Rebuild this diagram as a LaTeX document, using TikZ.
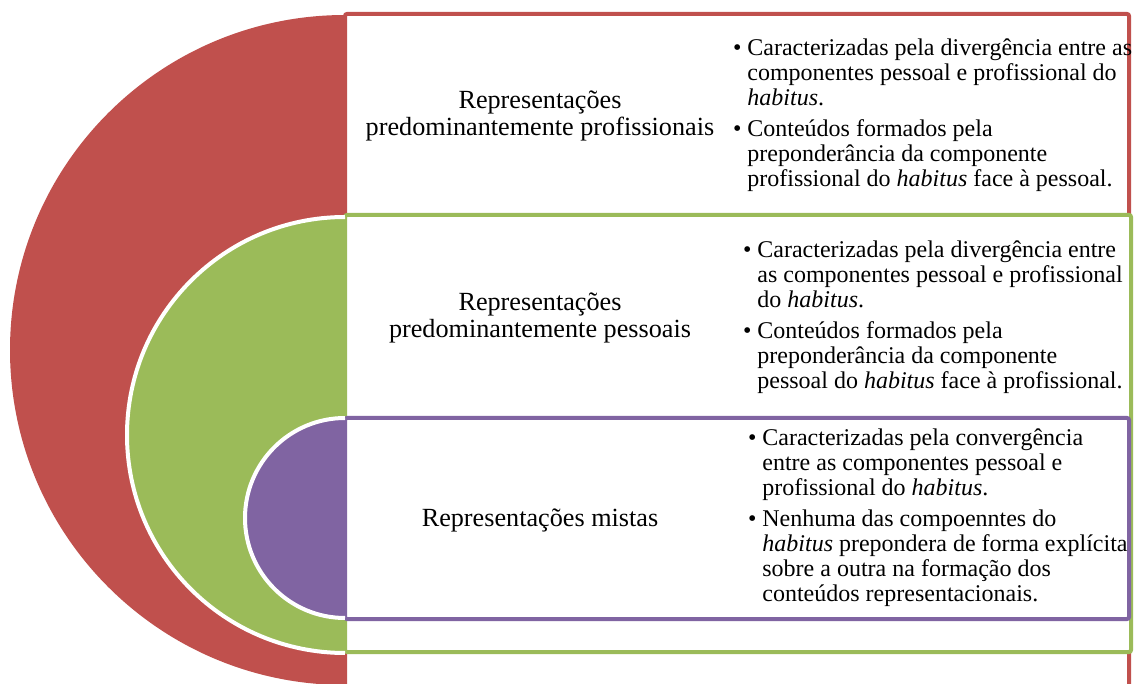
\documentclass[tikz,border=0pt]{standalone}
\usepackage{fontspec}
\setmainfont{Liberation Serif}
\usetikzlibrary{calc}
\definecolor{rojo}{HTML}{C0504D}
\definecolor{verde}{HTML}{9BBB59}
\definecolor{lila}{HTML}{8064A2}
\newcommand{\marca}{\llap{\textbullet\hspace{3pt}}}

\begin{document}
\begin{tikzpicture}[x=.5pt, y=-.5pt,
  caixa/.style={line width=2pt, rounded corners=1pt, fill=white},
  meia/.style={draw=white, line width=2pt},
  titulo/.style={align=center, inner sep=0pt, font=\fontsize{13.1}{13.6}\selectfont},
  lista/.style={align=left, anchor=west, inner sep=0pt, font=\fontsize{12}{12.5}\selectfont}]
\useasboundingbox (0,0) rectangle (1136,684);
% red layer
\draw[caixa, draw=rojo] (345,14) rectangle (1129,700);
\fill[rojo] (345,15) arc[start angle=270, end angle=90, radius=335] -- cycle;
% green layer
\draw[caixa, draw=verde] (345,215) rectangle (1131,652);
\fill[verde] (345,217) arc[start angle=270, end angle=90, radius=218] -- cycle;
\draw[meia] (345,217) arc[start angle=270, end angle=90, radius=218];
% purple layer
\draw[caixa, draw=lila] (345,418) rectangle (1129,619);
\fill[lila] (345,418) arc[start angle=270, end angle=90, radius=100] -- cycle;
\draw[meia] (345,418) arc[start angle=270, end angle=90, radius=100];

\node[titulo] (t1) at (540,116) {Representações\\predominantemente profissionais};
\node[titulo] (t2) at (540,318) {Representações\\predominantemente pessoais};
\node[titulo] (t3) at (540,520) {Representações mistas};

\node[lista] (l1) at (747,115) {\marca Caracterizadas pela divergência entre as\\
  componentes pessoal e profissional do\\ \textit{habitus}.\\[3pt]
  \marca Conteúdos formados pela\\ preponderância da componente\\
  profissional do \textit{habitus} face à pessoal.};
\node[lista] (l2) at (757,317) {\marca Caracterizadas pela divergência entre\\
  as componentes pessoal e profissional\\ do \textit{habitus}.\\[3pt]
  \marca Conteúdos formados pela\\ preponderância da componente\\
  pessoal do \textit{habitus} face à profissional.};
\node[lista] (l3) at (762,518) {\marca Caracterizadas pela convergência\\
  entre as componentes pessoal e\\ profissional do \textit{habitus}.\\[3pt]
  \marca Nenhuma das compoenntes do\\ \textit{habitus} prepondera de forma explícita\\
  sobre a outra na formação dos\\ conteúdos representacionais.};
\end{tikzpicture}
\end{document}
